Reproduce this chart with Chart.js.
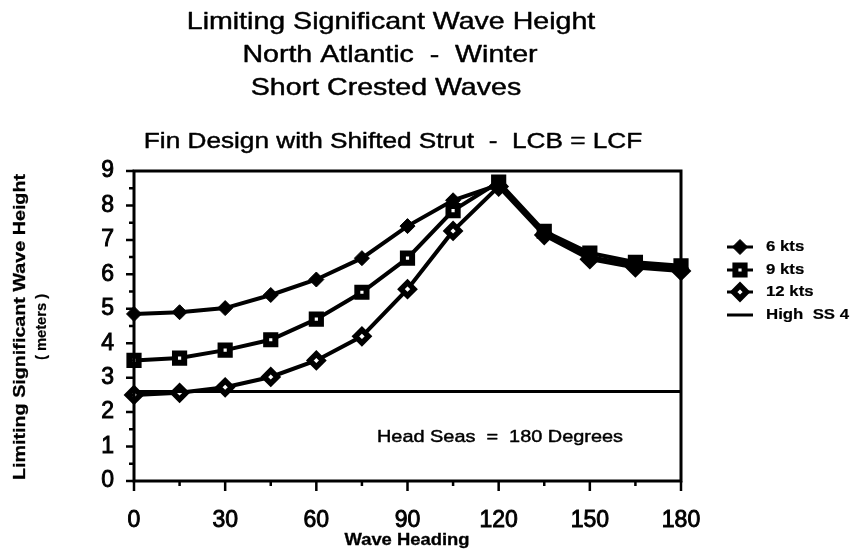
<!DOCTYPE html>
<html>
<head>
<meta charset="utf-8">
<script src="https://cdn.jsdelivr.net/npm/chart.js@4"></script>
<style>
body{margin:0;background:#fff;}
canvas{display:block;}
</style>
</head>
<body>
<canvas id="waveChart" width="866" height="556"></canvas>
<script>
// data
const headings = [0,15,30,45,60,75,90,105,120,135,150,165,180];
const kts6  = [4.85,4.9,5.02,5.4,5.85,6.47,7.4,8.15,8.6,7.2,6.5,6.27,6.18];
const kts9  = [3.5,3.57,3.8,4.1,4.7,5.48,6.47,7.85,8.68,7.25,6.62,6.35,6.25];
const kts12 = [2.5,2.56,2.72,3.02,3.5,4.2,5.57,7.26,8.55,7.14,6.44,6.2,6.1];
const ss4Headings = [0,180];
const ss4 = [2.6,2.6];
const yTicks = [0,1,2,3,4,5,6,7,8,9];
const xTicks = [0,30,60,90,120,150,180];

const FONT = '"Liberation Sans", Arial, Helvetica, sans-serif';

function pts(xs, ys){
return xs.map((x,i)=>({x:x,y:ys[i]}));
}

// text with a slight horizontal stretch, thickened a bit like the scan
function wideText(ctx, text, x, y, font, sx, align, thick){
ctx.save();
ctx.font = font;
ctx.translate(x,y);
ctx.scale(sx,1);
ctx.textAlign = align || "center";
ctx.textBaseline = "middle";
ctx.fillStyle = "#000";
ctx.fillText(text,0,0);
if(thick){
ctx.strokeStyle = "#000";
ctx.lineWidth = thick;
ctx.lineJoin = "round";
ctx.strokeText(text,0,0);
}
ctx.restore();
}

function marker(ctx, style, x, y){
ctx.save();
ctx.fillStyle = style.bg;
ctx.strokeStyle = "#000";
ctx.lineWidth = style.bw;
Chart.helpers.drawPoint(ctx, {pointStyle:style.ps, radius:style.r, borderWidth:style.bw, rotation:0}, x, y);
ctx.restore();
}

const seriesStyles = [
{label:"6 kts", ps:"rectRot", r:7.5, bg:"#000", bw:1},
{label:"9 kts", ps:"rect", r:6.5, bg:"#fff", bw:6},
{label:"12 kts", ps:"rectRot", r:6.5, bg:"#fff", bw:5.5}
];

const decorPlugin = {
id:"decor",
afterDraw(chart){
const {ctx, chartArea:a, scales} = chart;
const xs = scales.x, ys = scales.y;

// frame
ctx.save();
ctx.strokeStyle = "#000";
ctx.lineWidth = 3;
ctx.strokeRect(a.left, a.top, a.right-a.left, a.bottom-a.top);

// y ticks (major + half step minor)
ctx.lineWidth = 2.5;
ctx.beginPath();
for(let v=0; v<=9; v+=0.5){
const py = ys.getPixelForValue(v);
const len = Number.isInteger(v) ? 8 : 5;
ctx.moveTo(a.left, py);
ctx.lineTo(a.left-len, py);
}
// x ticks every 15
for(let h=0; h<=180; h+=15){
const px = xs.getPixelForValue(h);
const len = h%30===0 ? 10 : 5;
ctx.moveTo(px, a.bottom);
ctx.lineTo(px, a.bottom+len);
}
ctx.stroke();
ctx.restore();

// titles
wideText(ctx,"Limiting Significant Wave Height",391,22,"24px "+FONT,1.19,"center",0.45);
wideText(ctx,"North Atlantic  -  Winter",390,55,"24px "+FONT,1.19,"center",0.45);
wideText(ctx,"Short Crested Waves",386,88,"24px "+FONT,1.19,"center",0.45);
wideText(ctx,"Fin Design with Shifted Strut  -  LCB = LCF",393,142,"22px "+FONT,1.19,"center",0.45);

// axis titles
wideText(ctx,"Wave Heading",407,541,"bold 16px "+FONT,1.15,"center",0.3);
ctx.save();
ctx.translate(20,327);
ctx.rotate(-Math.PI/2);
wideText(ctx,"Limiting Significant Wave Height",0,0,"bold 17px "+FONT,1.16,"center",0.3);
wideText(ctx,"( meters )",0,22,"bold 14px "+FONT,1.05,"center",0.2);
ctx.restore();

// note
wideText(ctx,"Head Seas  =  180 Degrees",500,437,"17px "+FONT,1.17,"center",0.45);

// legend
const rows = [247,270,292,315];
ctx.save();
ctx.strokeStyle = "#000";
ctx.lineWidth = 3;
rows.forEach((ry,i)=>{
ctx.beginPath();
ctx.moveTo(727, ry);
ctx.lineTo(753, ry);
ctx.stroke();
if(i<3) marker(ctx, seriesStyles[i], 740, ry);
const txt = i<3 ? seriesStyles[i].label : "High  SS 4";
wideText(ctx, txt, 766, ry, "bold 15px "+FONT, 1.12, "left", 0.2);
});
ctx.restore();
}
};

function lineSet(label, data, st){
return {
label:label,
data:data,
borderColor:"#000",
borderWidth:4,
pointStyle:st.ps,
pointRadius:st.r,
pointBackgroundColor:st.bg,
pointBorderColor:"#000",
pointBorderWidth:st.bw,
tension:0,
clip:false
};
}

new Chart(document.getElementById("waveChart"),{
type:"line",
data:{
datasets:[
{
label:"High SS 4",
data:pts(ss4Headings, ss4),
borderColor:"#000",
borderWidth:3,
pointRadius:0,
clip:false
},
lineSet("6 kts", pts(headings,kts6), seriesStyles[0]),
lineSet("12 kts", pts(headings,kts12), seriesStyles[2]),
lineSet("9 kts", pts(headings,kts9), seriesStyles[1])
]
},
options:{
responsive:false,
animation:false,
layout:{padding:{left:0,top:171,right:185,bottom:0}},
plugins:{
legend:{display:false},
title:{display:false},
tooltip:{enabled:false}
},
scales:{
x:{
type:"linear",
min:0,
max:180,
afterBuildTicks(scale){ scale.ticks = xTicks.map(v=>({value:v})); },
afterFit(scale){ scale.height = 556-481; },
grid:{display:false, drawTicks:false},
border:{display:false},
ticks:{color:"#000", padding:26, textStrokeColor:"#000", textStrokeWidth:0.9, font:{family:FONT, size:23}}
},
y:{
min:0,
max:9,
afterBuildTicks(scale){ scale.ticks = yTicks.map(v=>({value:v})); },
afterFit(scale){ scale.width = 134; },
grid:{display:false, drawTicks:false},
border:{display:false},
ticks:{color:"#000", padding:20, textStrokeColor:"#000", textStrokeWidth:0.9, font:{family:FONT, size:23}}
}
}
},
plugins:[decorPlugin]
});
</script>
</body>
</html>
